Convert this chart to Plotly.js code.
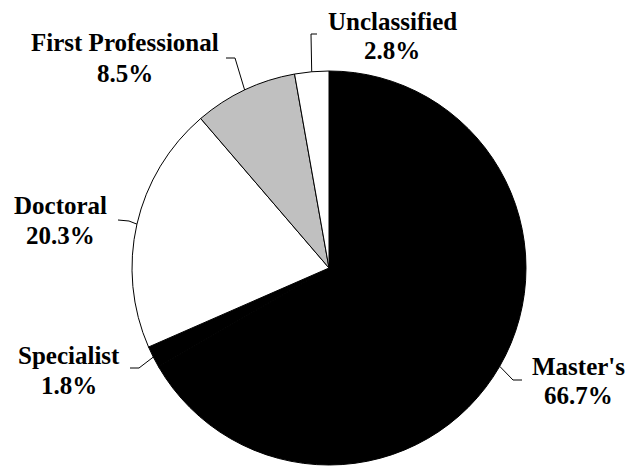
<!DOCTYPE html>
<html>
<head>
<meta charset="utf-8">
<script src="https://cdn.plot.ly/plotly-3.0.1.min.js"></script>
</head>
<body style="margin:0">
<div id="chart"></div>
<script>
// Data
const categories = ["Master's", "Specialist", "Doctoral", "First Professional", "Unclassified"];
const percents = [66.7, 1.8, 20.3, 8.5, 2.8];
const sliceColors = ["#000000", "#000000", "#ffffff", "#c0c0c0", "#ffffff"];

// Label placement (pixel positions: label x, name line y, percent line y, leader elbow and end)
const W = 626, H = 469;
const labelPos = [
  {x: 578, y1: 366, y2: 395, elbow: [513, 380], end: [522, 380]},
  {x: 69, y1: 355, y2: 385, elbow: [139, 368], end: [130, 368]},
  {x: 60, y1: 206, y2: 235, elbow: [129, 221], end: [118, 220]},
  {x: 125, y1: 43, y2: 73, elbow: [235, 58], end: [226, 58]},
  {x: 392, y1: 21, y2: 50, elbow: [311, 34], end: [317, 34]}
];

const px = v => v / W;
const py = v => 1 - v / H;

const cx = 329, cy = 268, r = 197;

const trace = {
  type: 'pie',
  labels: categories,
  values: percents,
  sort: false,
  direction: 'clockwise',
  rotation: 0,
  textinfo: 'none',
  hoverinfo: 'label+percent',
  marker: {colors: sliceColors, line: {color: '#000', width: 1}},
  domain: {x: [px(cx - r), px(cx + r)], y: [py(cy + r), py(cy - r)]},
  showlegend: false
};

// slice mid-angles from the data (clockwise from 12 o'clock)
const total = percents.reduce((a, b) => a + b, 0);
let acc = 0;
const anchors = percents.map(v => {
  const mid = acc + v / 2; acc += v;
  const ang = (90 - 360 * mid / total) * Math.PI / 180;
  return [cx + r * Math.cos(ang), cy - r * Math.sin(ang)];
});

const FONT = {family: 'Liberation Serif', size: 25, color: '#000'};
const annotations = [];
categories.forEach((c, i) => {
  const l = labelPos[i];
  annotations.push({
    text: '<b>' + c + '</b>', x: px(l.x), y: py(l.y1), xref: 'paper', yref: 'paper',
    xanchor: 'center', yanchor: 'middle', showarrow: false, font: FONT
  });
  annotations.push({
    text: '<b>' + percents[i].toFixed(1) + '%</b>', x: px(l.x), y: py(l.y2), xref: 'paper', yref: 'paper',
    xanchor: 'center', yanchor: 'middle', showarrow: false, font: FONT
  });
});

const shapes = labelPos.map((l, i) => {
  const pts = [anchors[i], l.elbow, l.end];
  return {
    type: 'path',
    xref: 'paper', yref: 'paper',
    path: 'M' + pts.map(p => px(p[0]) + ',' + py(p[1])).join(' L'),
    line: {color: '#000', width: 1}
  };
});

Plotly.newPlot('chart', [trace], {
  width: W, height: H,
  margin: {l: 0, r: 0, t: 0, b: 0},
  annotations: annotations,
  shapes: shapes
}, {staticPlot: true});
</script>
</body>
</html>
